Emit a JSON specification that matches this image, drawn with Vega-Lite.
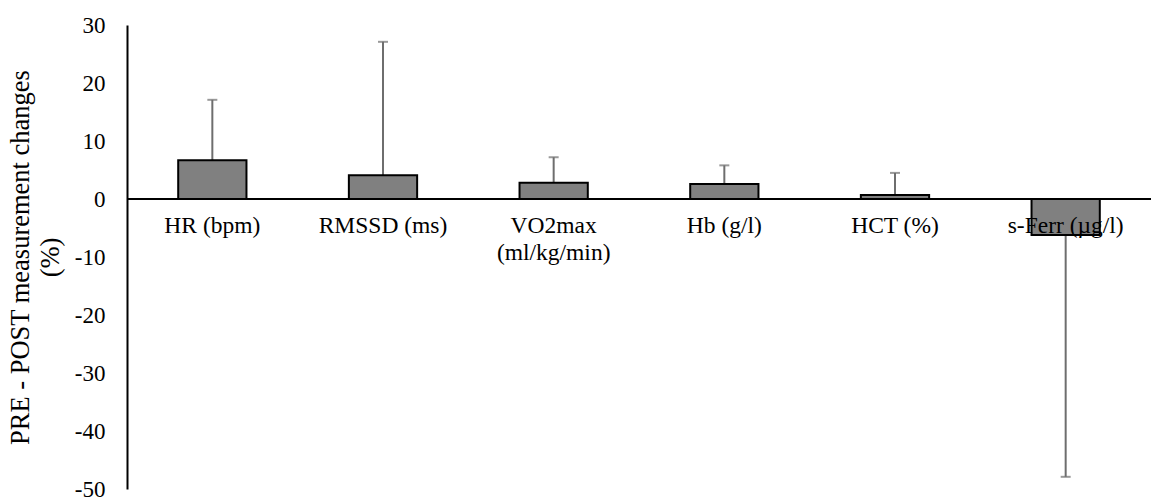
{
  "$schema": "https://vega.github.io/schema/vega-lite/v6.json",
  "autosize": "none",
  "width": 1024,
  "height": 464,
  "padding": {"left": 127, "top": 25, "right": 0, "bottom": 11},
  "background": "white",
  "config": {"view": {"stroke": null}, "font": "Liberation Serif"},
  "data": {"values": [
    {"cat": "HR (bpm)", "value": 6.7, "errEnd": 17.1},
    {"cat": "RMSSD (ms)", "value": 4.1, "errEnd": 27.1},
    {"cat": "VO2max (ml/kg/min)", "value": 2.8, "errEnd": 7.2},
    {"cat": "Hb (g/l)", "value": 2.6, "errEnd": 5.8},
    {"cat": "HCT (%)", "value": 0.7, "errEnd": 4.5},
    {"cat": "s-Ferr (µg/l)", "value": -6.2, "errEnd": -47.9}
  ]},
  "encoding": {
    "x": {"field": "cat", "type": "nominal", "sort": null,
      "scale": {"paddingInner": 0.6, "paddingOuter": 0.3},
      "axis": {"title": null, "orient": "bottom", "offset": -290, "domain": false, "ticks": false,
        "labelAngle": 0, "labelFont": "Liberation Serif", "labelFontSize": 23.5, "labelColor": "#000",
        "labelPadding": 14, "labelLineHeight": 27, "zindex": 1,
        "labelExpr": "datum.value == 'VO2max (ml/kg/min)' ? ['VO2max', '(ml/kg/min)'] : datum.label"}}
  },
  "layer": [
    {"mark": {"type": "rule", "color": "#000", "strokeWidth": 1.5},
     "encoding": {"x": null, "y": {"datum": 0, "type": "quantitative"}}},
    {"mark": {"type": "rule", "color": "#6e6e6e", "strokeWidth": 2},
     "encoding": {
       "y": {"field": "value", "type": "quantitative",
         "scale": {"domain": [-50, 30], "nice": false},
         "axis": {"values": [-50, -40, -30, -20, -10, 0, 10, 20, 30], "grid": false, "ticks": false,
           "labelExpr": "toString(datum.value)",
           "domainColor": "#000", "domainWidth": 2, "labelFont": "Liberation Serif", "labelFontSize": 23,
           "labelColor": "#000", "labelPadding": 22,
           "title": ["PRE - POST measurement changes", "(%)"], "titleFont": "Liberation Serif",
           "titleFontSize": 26.5, "titleFontWeight": "normal", "titleColor": "#000",
           "titleAngle": -90, "titleX": -120, "titleY": 232, "titleAlign": "center",
           "titleBaseline": "top", "titleLineHeight": 30}},
       "y2": {"field": "errEnd"}}},
    {"mark": {"type": "tick", "color": "#6e6e6e", "thickness": 2, "size": 10},
     "encoding": {"y": {"field": "errEnd", "type": "quantitative"}}},
    {"mark": {"type": "bar", "fill": "#808080", "stroke": "#000", "strokeWidth": 2},
     "encoding": {"y": {"field": "value", "type": "quantitative"}, "y2": {"datum": 0}}}
  ]
}
